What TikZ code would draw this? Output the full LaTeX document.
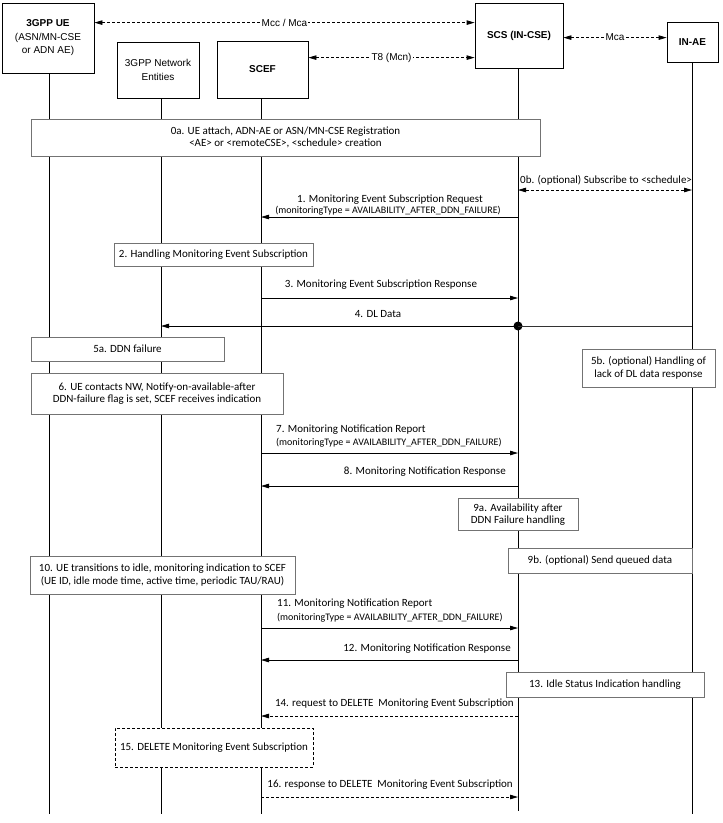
\documentclass[tikz,border=0pt]{standalone}
\usepackage{fontspec}
\setmainfont{Carlito}
\newfontfamily\hdr{Liberation Sans}
\usetikzlibrary{arrows.meta}
\begin{document}
\begin{tikzpicture}[x=1pt,y=-1pt,
  hbox/.style={draw=black, line width=0.8pt, fill=white, align=center, inner sep=0pt,
    font=\hdr\fontsize{10}{13.5}\selectfont},
  stepbox/.style={draw=black!55, line width=0.7pt, fill=white, align=center, inner sep=0pt,
    font=\fontsize{11}{12.5}\selectfont},
  dashbox/.style={draw=black, line width=0.8pt, dash pattern=on 3pt off 2pt, fill=white, align=center, inner sep=0pt,
    font=\fontsize{11}{12.5}\selectfont},
  life/.style={line width=0.8pt, black},
  msg/.style={line width=0.8pt, -{Triangle[length=8pt,width=4.5pt]}},
  dmsg/.style={msg, dash pattern=on 3pt off 2pt},
  harrow/.style={line width=0.8pt, dash pattern=on 3pt off 2pt, {Triangle[length=8pt,width=4.5pt]}-{Triangle[length=8pt,width=4.5pt]}},
  hlbl/.style={fill=white, inner sep=1pt, font=\hdr\fontsize{10}{12}\selectfont},
  lbl/.style={inner sep=0pt, font=\fontsize{11}{12}\selectfont},
  sub/.style={inner sep=0pt, font=\fontsize{10}{11}\selectfont}
]
\useasboundingbox (0,0) rectangle (723,823);

% lifeline ends
\coordinate (ueB) at (49,814);
\coordinate (neB) at (161,814);
\coordinate (scefB) at (261,814);
\coordinate (scsB) at (518,811);
\coordinate (inaeB) at (692,814);

% header boxes
\node[hbox, minimum width=92pt, minimum height=70pt] (ue) at (48,38) {\textbf{3GPP UE}\\(ASN/MN-CSE\\or ADN AE)};
\node[hbox, minimum width=82pt, minimum height=56pt] (ne) at (158,70) {3GPP Network\\Entities};
\node[hbox, minimum width=91pt, minimum height=57pt] (scef) at (262.5,69.5) {\textbf{SCEF}};
\node[hbox, minimum width=88pt, minimum height=65pt] (scs) at (519,35.5) {\textbf{SCS (IN-CSE)}};
\node[hbox, minimum width=51pt, minimum height=40pt] (inae) at (692.5,42) {\textbf{IN-AE}};

% lifelines
\draw[life] (ue.south -| ueB) -- (ueB);
\draw[life] (ne.south -| neB) -- (neB);
\draw[life] (scef.south -| scefB) -- (scefB);
\draw[life] (scs.south -| scsB) -- (scsB);
\draw[life] (inae.south -| inaeB) -- (inaeB);

% header reference points
\draw[harrow] ([yshift=-20pt]ue.north east) -- node[hlbl] (lmcc) {Mcc / Mca} ([yshift=-20pt]scs.north west);
\draw[harrow] ([yshift=-17pt]scef.north east) -- node[hlbl] (lt8) {T8 (Mcn)} ([yshift=-55pt]scs.north west);
\draw[harrow] ([yshift=-35pt]scs.north east) -- node[hlbl] (lmca) {Mca} ([yshift=-16pt]inae.north west);

% step boxes
\node[stepbox, minimum width=509pt, minimum height=37pt] (s0a) at (285.5,137.5) {0a. UE attach, ADN-AE or ASN/MN-CSE Registration\\{<}AE{>} or {<}remoteCSE{>}, {<}schedule{>} creation};
\node[stepbox, minimum width=199pt, minimum height=23pt] (s2) at (213.5,254.5) {2. Handling Monitoring Event Subscription};
\node[stepbox, minimum width=193pt, minimum height=24pt] (s5a) at (127.5,349) {5a. DDN failure};
\node[stepbox, minimum width=133pt, minimum height=38pt] (s5b) at (648.5,368) {5b. (optional) Handling of\\lack of DL data response};
\node[stepbox, minimum width=252pt, minimum height=41pt] (s6) at (157,393.5) {6. UE contacts NW, Notify-on-available-after\\DDN-failure flag is set, SCEF receives indication};
\node[stepbox, minimum width=120pt, minimum height=32pt] (s9a) at (518,514.5) {9a. Availability after\\DDN Failure handling};
\node[stepbox, minimum width=184pt, minimum height=25pt] (s9b) at (600,560.5) {9b. (optional) Send queued data};
\node[stepbox, minimum width=265pt, minimum height=38pt] (s10) at (162.5,575) {10. UE transitions to idle, monitoring indication to SCEF\\(UE ID, idle mode time, active time, periodic TAU/RAU)};
\node[stepbox, minimum width=198pt, minimum height=25pt] (s13) at (605,684.5) {13. Idle Status Indication handling};
\node[dashbox, minimum width=198pt, minimum height=39pt] (s15) at (214,747.5) {15. DELETE Monitoring Event Subscription};

% message end points
\coordinate (m0a) at (518,190); \coordinate (m0b) at (692,190);
\coordinate (m1a) at (518,217); \coordinate (m1b) at (261,217);
\coordinate (m3a) at (261,298); \coordinate (m3b) at (518,298);
\coordinate (m4a) at (692,326); \coordinate (m4b) at (161,326);
\coordinate (m7a) at (261,453); \coordinate (m7b) at (518,453);
\coordinate (m8a) at (518,486); \coordinate (m8b) at (261,486);
\coordinate (m11a) at (261,628); \coordinate (m11b) at (518,628);
\coordinate (m12a) at (518,660); \coordinate (m12b) at (261,660);
\coordinate (m14a) at (518,716); \coordinate (m14b) at (261,716);
\coordinate (m16a) at (261,797); \coordinate (m16b) at (518,797);

% messages
\draw[harrow] (m0a) -- (m0b);
\node[lbl, anchor=west] (l0b) at (520,180) {0b. (optional) Subscribe to {<}schedule{>}};

\draw[msg] (m1a) -- (m1b);
\node[lbl] (l1) at (390,200) {1. Monitoring Event Subscription Request};
\node[sub] (l1s) at (388,211) {(monitoringType = AVAILABILITY\_AFTER\_DDN\_FAILURE)};

\draw[msg] (m3a) -- (m3b);
\node[lbl] (l3) at (381,285) {3. Monitoring Event Subscription Response};

\node[circle, fill=black, inner sep=0pt, minimum size=9pt] (dot) at (518,326) {};
\draw[line width=0.8pt, black!80] (m4a) -- (dot.center);
\draw[msg] (dot.center) -- (m4b);
\node[lbl] (l4) at (378,314) {4. DL Data};

\draw[msg] (m7a) -- (m7b);
\node[lbl, anchor=west] (l7) at (276,430) {7. Monitoring Notification Report};
\node[sub, anchor=west] (l7s) at (276,443) {(monitoringType = AVAILABILITY\_AFTER\_DDN\_FAILURE)};

\draw[msg] (m8a) -- (m8b);
\node[lbl, anchor=east] (l8) at (506,472) {8. Monitoring Notification Response};

\draw[msg] (m11a) -- (m11b);
\node[lbl, anchor=west] (l11) at (277,604) {11. Monitoring Notification Report};
\node[sub, anchor=west] (l11s) at (277,618) {(monitoringType = AVAILABILITY\_AFTER\_DDN\_FAILURE)};

\draw[msg] (m12a) -- (m12b);
\node[lbl, anchor=east] (l12) at (511,649) {12. Monitoring Notification Response};

\draw[dmsg] (m14a) -- (m14b);
\node[lbl, anchor=east] (l14) at (514,704) {14. request to DELETE\ \ Monitoring Event Subscription};

\draw[dmsg] (m16a) -- (m16b);
\node[lbl, anchor=east] (l16) at (513,785) {16. response to DELETE\ \ Monitoring Event Subscription};
\end{tikzpicture}
\end{document}
